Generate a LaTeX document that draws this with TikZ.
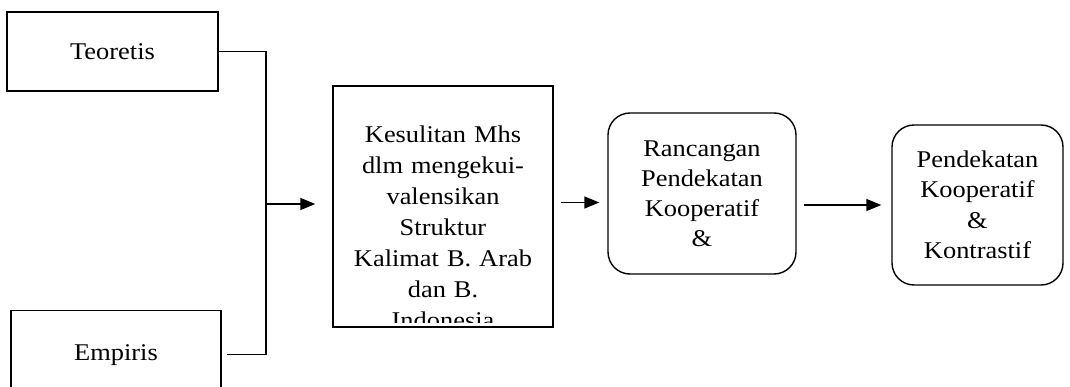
\documentclass[tikz,border=0pt]{standalone}
\usepackage{fontspec}
\setmainfont{Liberation Serif}[FakeStretch=1.1]
\usetikzlibrary{arrows.meta,positioning}

\begin{document}
\begin{tikzpicture}[x=1pt,y=-1pt,line width=1.4pt,
    every node/.style={inner sep=0pt,align=center,font=\fontsize{24}{30.5}\selectfont},
    kotak/.style={draw,shape=rectangle},
    bulat/.style={draw,shape=rectangle,rounded corners=22pt},
    panah/.style={-{Triangle[length=15pt,width=12pt]}}]
      \useasboundingbox (0,0) rectangle (1070,387);
      \clip (0,0) rectangle (1070,387);
      \path (112.5,51.5) node[kotak,minimum width=211pt,minimum height=79pt] (teoretis) {Teoretis};
      \path (116,310) node[kotak,anchor=north,minimum width=210pt,text height=50pt,text depth=70pt] (empiris) {Empiris};
      \path (443,206.5) node[kotak,minimum width=220pt,minimum height=241pt] (sulit) {};
      \begin{scope}
        \clip ([yshift=5pt]sulit.south west) rectangle (sulit.north east);
        \path (443,125.6) node[anchor=north,text width=215pt,font=\fontsize{24}{31}\selectfont] (sulitteks)
          {Kesulitan Mhs\\dlm mengekui-\\valensikan\\Struktur\\Kalimat B. Arab\\dan B.\\Indonesia};
      \end{scope}
      \path (702,193.5) node[bulat,minimum width=188pt,minimum height=161pt,
        font=\fontsize{24}{30}\selectfont] (rancangan) {Rancangan\\Pendekatan\\Kooperatif\\\&};
      \path (977.5,205) node[bulat,minimum width=171pt,minimum height=160pt] (pendekatan)
        {Pendekatan\\Kooperatif\\\&\\Kontrastif};
      \coordinate (simpul) at (266,204);
      \draw (teoretis.east) -| (simpul);
      \draw ([xshift=5pt,yshift=6pt]empiris.base east) -| (simpul);
      \draw[panah] (simpul) -- ([xshift=-17pt]sulit.west |- simpul);
      \draw[panah] ([xshift=7pt,yshift=4pt]sulit.east) -- ([xshift=-8pt,yshift=4pt]rancangan.west |- sulit.east);
      \draw[panah] ([xshift=7pt]rancangan.east |- pendekatan.west) -- ([xshift=-10pt]pendekatan.west);
    \end{tikzpicture}
\end{document}
